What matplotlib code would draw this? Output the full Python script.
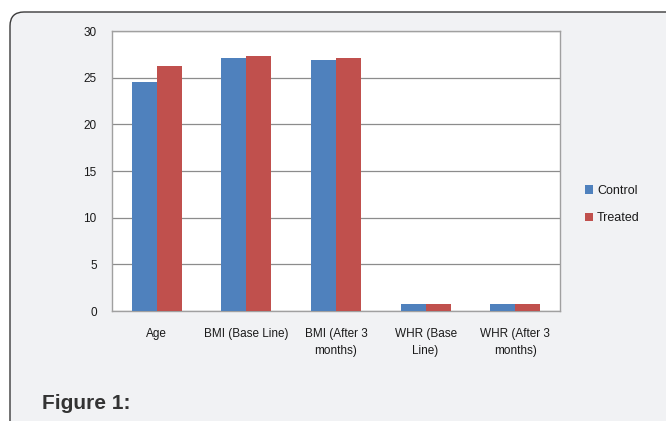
import matplotlib.pyplot as plt
import matplotlib.patches as mpatches
import numpy as np

# Datos por grupo
categories = ['Age', 'BMI (Base Line)', 'BMI (After 3\nmonths)', 'WHR (Base\nLine)', 'WHR (After 3\nmonths)']
control = [24.5, 27.1, 26.9, 0.8, 0.8]
treated = [26.3, 27.3, 27.1, 0.8, 0.8]
series_names = ['Control', 'Treated']
yticks = [0, 5, 10, 15, 20, 25, 30]

plt.rcParams['font.family'] = ['Liberation Sans Narrow', 'Liberation Sans', 'DejaVu Sans']

fig = plt.figure(figsize=(6.66, 4.21), dpi=100)
fig.patch.set_facecolor('white')

# Panel gris con esquina redondeada, detrás de los ejes
panel = mpatches.FancyBboxPatch((10, -40), 720, 409 + 40,
                                boxstyle='round,pad=0,rounding_size=14',
                                transform=None, facecolor='#f1f2f4',
                                edgecolor='#3a3a3a', linewidth=1.0, zorder=-5)
fig.patches.append(panel)

ax = fig.add_axes([112 / 666, 1 - 311 / 421, 448 / 666, 280 / 421])
ax.set_facecolor('white')

x = np.arange(len(categories))
w = 0.28
ax.bar(x - w / 2, control, w, color='#4f81bd', label=series_names[0], zorder=3)
ax.bar(x + w / 2, treated, w, color='#c0504d', label=series_names[1], zorder=3)

ax.set_xlim(-0.5, len(categories) - 0.5)
ax.set_ylim(0, 30)
ax.set_yticks(yticks)
ax.set_xticks(x)
ax.set_xticklabels(categories, fontsize=8.5, linespacing=1.6, color='#1a1a1a')
ax.tick_params(axis='x', length=0, pad=12)
ax.tick_params(axis='y', length=0, labelsize=8.5, pad=11, labelcolor='#1a1a1a')
ax.yaxis.grid(True, color='#8c8c8c', linewidth=0.9, zorder=1)
for s in ax.spines.values():
    s.set_color('#a0a0a0')
    s.set_linewidth(1.0)

ax.legend(loc='center left', bbox_to_anchor=(1.03, 0.38), frameon=False,
          fontsize=9, handlelength=0.7, handleheight=0.7,
          handletextpad=0.3, labelspacing=1.25, labelcolor='#1a1a1a')

fig.text(42 / 666, 1 - 409 / 421, 'Figure 1:', fontsize=15, fontweight='bold',
         family=['Liberation Sans', 'DejaVu Sans'], color='#333333', va='baseline')

fig.savefig('out.png', dpi=100)
